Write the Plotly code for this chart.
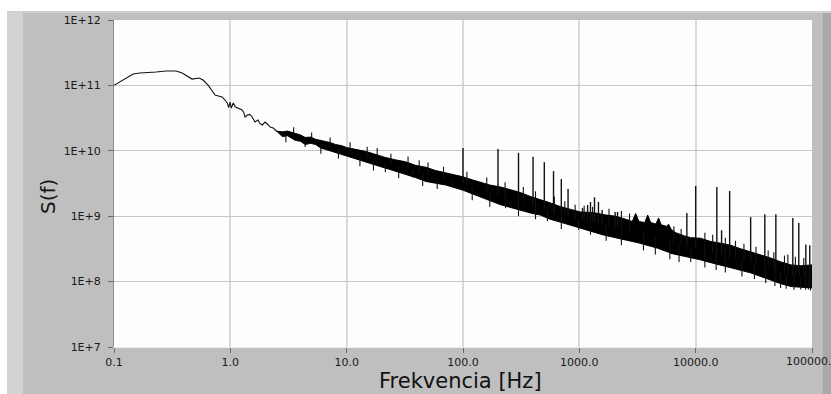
import numpy as np
import plotly.graph_objects as go

# ---- data ----
curve_freq = [0.1, 0.146, 0.167, 0.192, 0.23, 0.28, 0.342, 0.385, 0.469, 0.54,
              0.583, 0.644, 0.711, 0.74, 0.79, 0.85, 0.90, 0.94, 0.97, 0.996,
              1.02, 1.06, 1.10, 1.15, 1.2, 1.26, 1.30, 1.34, 1.40, 1.47,
              1.54, 1.63, 1.73, 1.80, 1.88, 1.99, 2.12, 2.2, 2.34, 2.45, 2.53]
curve_s = [1.0e11, 1.49e11, 1.55e11, 1.56e11, 1.6e11, 1.66e11, 1.66e11, 1.55e11, 1.25e11, 1.3e11,
           1.21e11, 1.01e11, 7.66e10, 7.1e10, 6.9e10, 6.65e10, 5.98e10, 5.38e10, 4.6e10, 5.57e10,
           4.51e10, 5.38e10, 4.7e10, 4.51e10, 4.3e10, 4.21e10, 3.9e10, 3.29e10, 3.53e10, 3.6e10,
           3.29e10, 2.75e10, 2.96e10, 2.6e10, 2.48e10, 2.75e10, 2.48e10, 2.3e10, 2.23e10, 2.05e10, 1.94e10]

band_freq = [2.5, 2.8, 3.1, 3.6, 4.0, 4.4, 4.9, 5.4, 6.0, 6.6,
             7.3, 8.0, 9.0, 10, 12, 14.5, 17, 21, 26, 32,
             39, 48, 58, 71, 85, 100, 120, 141, 170, 210,
             260, 312, 380, 463, 560, 690, 850, 1020, 1200, 1380,
             1650, 2050, 2500, 2850, 3050, 3250, 3650, 3870, 4100, 4550,
             4800, 5050, 5600, 5860, 6150, 6730, 8000, 9060, 11000, 13500,
             16000, 20000, 24000, 29700, 36000, 44000, 54000, 66000, 80000, 100000]
band_upper = [2.0e10, 1.95e10, 2.0e10, 1.85e10, 1.75e10, 1.6e10, 1.62e10, 1.5e10, 1.45e10, 1.38e10,
              1.33e10, 1.25e10, 1.2e10, 1.12e10, 1.05e10, 9.8e9, 9.0e9, 8.0e9, 7.3e9, 6.8e9,
              6.0e9, 5.6e9, 5.0e9, 4.6e9, 4.3e9, 4.0e9, 3.6e9, 3.3e9, 3.0e9, 2.8e9,
              2.5e9, 2.3e9, 2.0e9, 1.8e9, 1.6e9, 1.4e9, 1.25e9, 1.16e9, 1.15e9, 1.12e9,
              1.05e9, 1.0e9, 9.0e8, 8.3e8, 1.1e9, 8.3e8, 8.0e8, 1.04e9, 8.0e8, 7.6e8,
              9.4e8, 7.4e8, 7.0e8, 7.5e8, 6.3e8, 5.6e8, 5.0e8, 4.7e8, 4.6e8, 4.1e8,
              3.9e8, 3.6e8, 3.2e8, 2.85e8, 2.5e8, 2.3e8, 2.0e8, 1.8e8, 1.75e8, 1.8e8]
band_lower = [2.0e10, 1.65e10, 1.7e10, 1.45e10, 1.4e10, 1.25e10, 1.3e10, 1.25e10, 1.1e10, 1.05e10,
              1.0e10, 9.5e9, 9.0e9, 8.3e9, 7.6e9, 6.8e9, 6.2e9, 5.5e9, 4.9e9, 4.4e9,
              3.9e9, 3.4e9, 3.2e9, 3.0e9, 2.7e9, 2.5e9, 2.2e9, 2.0e9, 1.75e9, 1.5e9,
              1.35e9, 1.25e9, 1.12e9, 1.04e9, 9.0e8, 8.1e8, 7.2e8, 6.6e8, 6.0e8, 5.6e8,
              5.1e8, 4.6e8, 4.3e8, 4.1e8, 4.0e8, 3.9e8, 3.7e8, 3.6e8, 3.5e8, 3.3e8,
              3.2e8, 3.1e8, 2.9e8, 2.8e8, 2.7e8, 2.6e8, 2.4e8, 2.3e8, 2.15e8, 1.95e8,
              1.8e8, 1.62e8, 1.5e8, 1.36e8, 1.2e8, 1.06e8, 9.3e7, 8.4e7, 8.2e7, 8.0e7]

# tall harmonic lines
spike_freq = [100, 200, 300, 400, 500, 600, 700, 800, 1065, 1178,
              1247, 1350, 1460, 1570, 2030, 2130, 8400, 10000, 15200, 16700,
              19600, 29700, 39300, 48900, 68400, 77000, 88500, 95700]
spike_top = [1.1e10, 1.07e10, 9.3e9, 8.1e9, 6.7e9, 4.9e9, 3.7e9, 2.6e9, 1.33e9, 1.48e9,
             1.65e9, 1.95e9, 1.65e9, 1.24e9, 1.16e9, 1.16e9, 1.12e9, 2.9e9, 2.8e9, 6.1e8,
             2.43e9, 9.7e8, 1.07e9, 1.07e9, 9.4e8, 7.9e8, 3.7e8, 3.6e8]

# short noise peaks above the band
up_hair_freq = [3.5, 5.0, 7.2, 10.7, 15, 18.3, 24, 33.7, 42, 50,
                68, 108, 160, 230, 330, 420, 610, 750, 920, 1100,
                1300, 1800, 2300, 2700, 6500, 7500, 12000, 14000, 18000, 22000,
                26000, 33000, 42000, 47000, 58000, 62000, 72000, 85000]
up_hair_top = [2.3e10, 1.9e10, 1.6e10, 1.35e10, 1.15e10, 1.1e10, 9.0e9, 8.2e9, 7.2e9, 6.6e9,
               5.7e9, 4.8e9, 3.9e9, 3.3e9, 2.8e9, 2.4e9, 2.0e9, 1.7e9, 1.5e9, 1.45e9,
               1.4e9, 1.3e9, 1.2e9, 1.1e9, 7.0e8, 6.4e8, 5.6e8, 5.2e8, 4.7e8, 4.2e8,
               3.8e8, 3.4e8, 3.0e8, 2.8e8, 2.5e8, 2.6e8, 2.4e8, 2.3e8]

# short noise dips below the band
low_hair_freq = [3.0, 4.4, 6.0, 8.5, 13, 17, 21.5, 28, 37, 45,
                 60, 82, 120, 170, 232, 300, 420, 532, 700, 985,
                 1247, 1700, 2300, 3560, 4500, 6000, 7200, 9060, 12000, 15000,
                 18000, 25000, 32000, 40000, 48000, 53700, 60000, 70000, 80000, 88000,
                 93000, 97000]
low_hair_bottom = [1.35e10, 1.14e10, 9.0e9, 7.6e9, 5.8e9, 5.0e9, 4.7e9, 3.8e9, 3.9e9, 2.9e9,
                   2.6e9, 2.8e9, 1.75e9, 1.4e9, 1.33e9, 1.0e9, 9.0e8, 8.4e8, 6.4e8, 6.2e8,
                   5.2e8, 4.2e8, 3.6e8, 3.0e8, 2.6e8, 2.2e8, 2.0e8, 2.0e8, 1.65e8, 1.5e8,
                   1.38e8, 1.2e8, 1.1e8, 9.5e7, 8.6e7, 8.0e7, 7.8e7, 7.5e7, 7.6e7, 7.5e7,
                   7.6e7, 7.3e7]

x_tick_vals = [0.1, 1, 10, 100, 1000, 10000, 100000]
x_tick_text = ["0.1", "1.0", "10.0", "100.0", "1000.0", "10000.0", "100000.0"]
y_tick_vals = [1e7, 1e8, 1e9, 1e10, 1e11, 1e12]
y_tick_text = ["1E+7", "1E+8", "1E+9", "1E+10", "1E+11", "1E+12"]

# ---- helpers (positions derived from the data above) ----
lf = np.log10(band_freq)
lmid = (np.log10(band_upper) + np.log10(band_lower)) / 2.0


def band_mid(f):
    return float(10 ** np.interp(np.log10(f), lf, lmid))


def vsegs(freqs, ends):
    xs, ys = [], []
    for f, e in zip(freqs, ends):
        xs += [f, f, None]
        ys += [e, band_mid(f), None]
    return xs, ys


fig = go.Figure()
fig.add_trace(go.Scatter(
    x=list(band_freq) + list(band_freq[::-1]),
    y=list(band_upper) + list(band_lower[::-1]),
    mode="lines", fill="toself", fillcolor="#000000",
    line=dict(color="#000000", width=1), hoverinfo="skip", showlegend=False))
for fr, en, w in [(up_hair_freq, up_hair_top, 1.1), (low_hair_freq, low_hair_bottom, 1.1),
                  (spike_freq, spike_top, 1.4)]:
    xs, ys = vsegs(fr, en)
    fig.add_trace(go.Scatter(x=xs, y=ys, mode="lines",
                             line=dict(color="#111111", width=w), showlegend=False))
fig.add_trace(go.Scatter(x=curve_freq, y=curve_s, mode="lines",
                         line=dict(color="#111111", width=1.1), showlegend=False))

W, H = 831, 394
L, R, T, B = 114, 19, 20, 47
pw, ph = W - L - R, H - T - B


def px(x):
    return (x - L) / pw


def py(y):
    return (H - B - y) / ph


shapes = [
    dict(type="rect", xref="paper", yref="paper", x0=px(0), x1=px(W), y0=py(11), y1=py(0),
         fillcolor="#ffffff", line=dict(width=0), layer="below"),
    dict(type="rect", xref="paper", yref="paper", x0=px(0), x1=px(7), y0=py(H), y1=py(0),
         fillcolor="#ffffff", line=dict(width=0), layer="below"),
    dict(type="rect", xref="paper", yref="paper", x0=px(7), x1=px(23), y0=py(H), y1=py(11),
         fillcolor="#d3d3d3", line=dict(width=0), layer="below"),
    dict(type="rect", xref="paper", yref="paper", x0=px(7), x1=px(W), y0=py(13), y1=py(11),
         fillcolor="#d0d0d0", line=dict(width=0), layer="below"),
    dict(type="rect", xref="paper", yref="paper", x0=px(823), x1=px(W), y0=py(H), y1=py(13),
         fillcolor="#a9a9a9", line=dict(width=0), layer="below"),
]

font_main = "DejaVu Sans, Verdana, sans-serif"
tick_font = dict(family=font_main, size=11, color="#1a1a1a")

# the last x tick label overflows the figure edge; draw it as a plain text label
shown_x_text = x_tick_text[:-1] + [""]
edge_label = dict(text=x_tick_text[-1], xref="x", yref="paper",
                  x=float(np.log10(x_tick_vals[-1])), y=py(361),
                  xanchor="center", yanchor="middle", showarrow=False, font=tick_font)

fig.update_layout(
    width=W, height=H, autosize=False,
    margin=dict(l=L, r=R, t=T, b=B, pad=0, autoexpand=False),
    paper_bgcolor="#bfbfbf", plot_bgcolor="#fdfdfd",
    showlegend=False, shapes=shapes,
    xaxis=dict(type="log", range=[-1.00001, 5.00001], tickvals=x_tick_vals, ticktext=shown_x_text,
               ticks="outside", ticklen=5, tickwidth=1, tickcolor="#6a6a6a", automargin=False,
               showgrid=True, gridcolor="#d9d9d9", gridwidth=1.6,
               showline=True, linecolor="#ececec", linewidth=1, zeroline=False,
               tickfont=tick_font),
    yaxis=dict(type="log", range=[7, 12], tickvals=y_tick_vals, ticktext=y_tick_text,
               ticks="outside", ticklen=5, tickwidth=1, tickcolor="#6a6a6a", automargin=False,
               showgrid=True, gridcolor="#c6c6c6", gridwidth=1,
               showline=True, linecolor="#8c8c8c", linewidth=1, zeroline=False,
               ticklabelstandoff=5,
               tickfont=tick_font),
    annotations=[
        edge_label,
        dict(text="Frekvencia [Hz]", xref="paper", yref="paper", x=px(460), y=py(381),
             xanchor="center", yanchor="middle", showarrow=False,
             font=dict(family=font_main, size=21, color="#111111")),
        dict(text="S(f)", xref="paper", yref="paper", x=px(48), y=py(197),
             xanchor="center", yanchor="middle", showarrow=False, textangle=-90,
             font=dict(family=font_main, size=20, color="#111111")),
    ],
)

fig.write_html("out.html")
